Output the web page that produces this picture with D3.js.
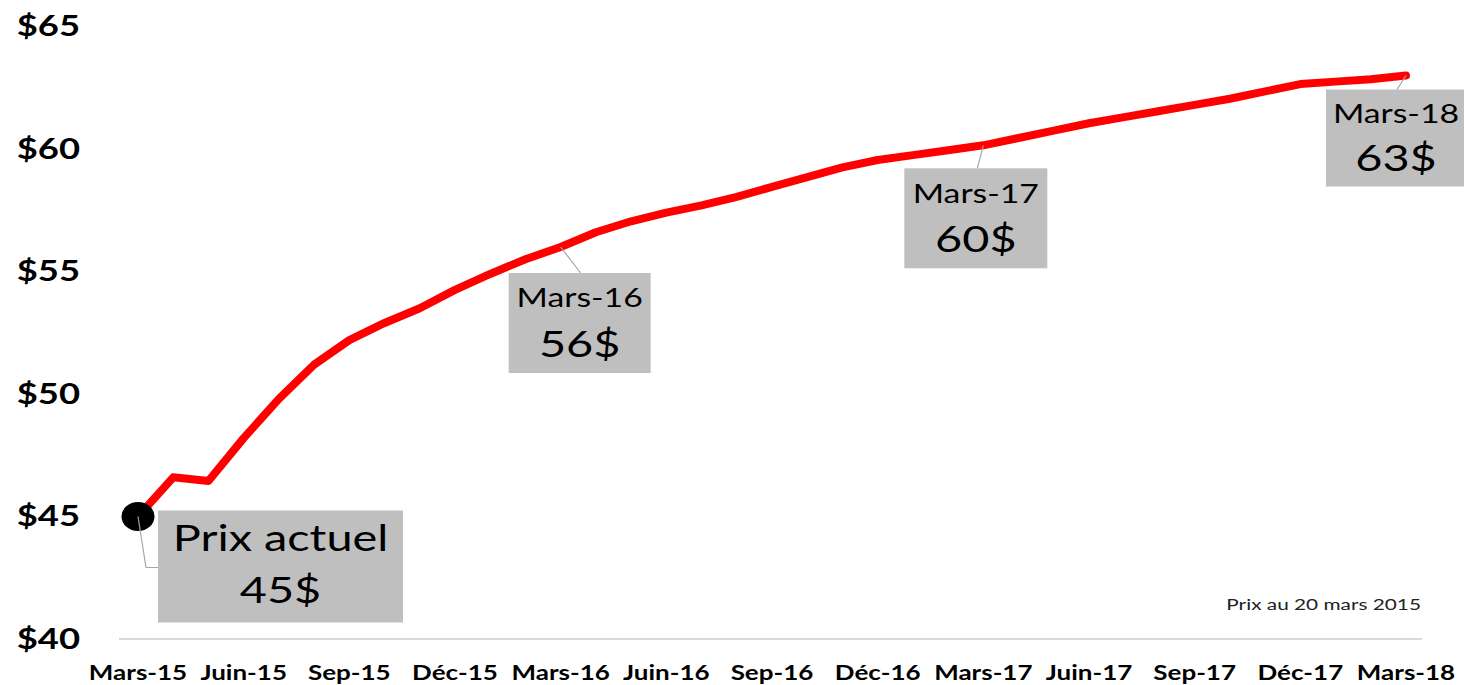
<!DOCTYPE html>
<html>
<head>
<meta charset="utf-8">
<script src="https://cdn.jsdelivr.net/npm/d3@7"></script>
<style>
  body { margin: 0; background: #fff; }
  svg { display: block; font-family: Lato, "Open Sans", sans-serif; }
</style>
</head>
<body>
<svg id="chart" width="1464" height="685"></svg>
<script>
// months from Mars-15 to Mars-18
var months = ["Mars-15","Avr-15","Mai-15","Juin-15","Juil-15","Août-15","Sep-15","Oct-15","Nov-15","Déc-15","Janv-16","Févr-16",
  "Mars-16","Avr-16","Mai-16","Juin-16","Juil-16","Août-16","Sep-16","Oct-16","Nov-16","Déc-16","Janv-17","Févr-17",
  "Mars-17","Avr-17","Mai-17","Juin-17","Juil-17","Août-17","Sep-17","Oct-17","Nov-17","Déc-17","Janv-18","Févr-18","Mars-18"];
var prices = [45.0, 46.6, 46.45, 48.2, 49.8, 51.2, 52.2, 52.9, 53.5, 54.25, 54.9, 55.5,
  56.0, 56.6, 57.05, 57.4, 57.7, 58.05, 58.45, 58.85, 59.25, 59.55, 59.75, 59.95,
  60.15, 60.45, 60.75, 61.05, 61.3, 61.55, 61.8, 62.05, 62.35, 62.65, 62.75, 62.85, 63.0];
var tickLabels = ["Mars-15","Juin-15","Sep-15","Déc-15","Mars-16","Juin-16","Sep-16","Déc-16","Mars-17","Juin-17","Sep-17","Déc-17","Mars-18"];
var yTicks = [40, 45, 50, 55, 60, 65];

// callouts: month, line 1, line 2
var callouts = [
  {m: "Mars-15", l1: "Prix actuel", l2: "45$"},
  {m: "Mars-16", l1: "Mars-16", l2: "56$"},
  {m: "Mars-17", l1: "Mars-17", l2: "60$"},
  {m: "Mars-18", l1: "Mars-18", l2: "63$"}
];
var note = "Prix au 20 mars 2015";

var svg = d3.select("#chart");

var x = d3.scalePoint().domain(months).range([138, 1406]);
var y = d3.scaleLinear().domain([40, 65]).range([639, 26.5]);

// original text is wide, stretch it a bit
var stretch = 1.3;
function label(parent, px, py, str, size, weight, anchor) {
  return parent.append("text")
    .attr("transform", "translate(" + px + "," + py + ") scale(" + stretch + ",1)")
    .attr("text-anchor", anchor).attr("dominant-baseline", "central")
    .style("font-size", size + "px").style("font-weight", weight).style("fill", "#000")
    .text(str);
}

// base axis line
svg.append("line")
  .attr("x1", 119).attr("x2", 1422)
  .attr("y1", y(40)).attr("y2", y(40))
  .attr("stroke", "#d9d9d9").attr("stroke-width", 2);

// y labels
yTicks.forEach(function(d){
  label(svg, 80, y(d) - 1, "$" + d, 28, "bold", "end");
});

// x labels
tickLabels.forEach(function(d){
  label(svg, x(d), 672, d, 20, "bold", "middle");
});

// price line
var line = d3.line()
  .x(function(d, i){ return x(months[i]); })
  .y(function(d){ return y(d); });

svg.append("path")
  .datum(prices)
  .attr("d", line)
  .attr("fill", "none").attr("stroke", "#ff0000")
  .attr("stroke-width", 8).attr("stroke-linejoin", "round").attr("stroke-linecap", "round");

// current price marker
svg.append("ellipse")
  .attr("cx", x("Mars-15")).attr("cy", y(prices[0]))
  .attr("rx", 16.5).attr("ry", 14.5).attr("fill", "#000");

// callout boxes (offsets relative to point)
var boxes = [
  {w: 245, h: 112, dx: 20, dy: -6, f1: 36, f2: 36, lead: [[0,0],[8,51],[20,51]]},
  {w: 142, h: 100, dx: -52, dy: 26, f1: 26, f2: 36, lead: [[0,0],[20,26]]},
  {w: 143, h: 100, dx: -79, dy: 23, f1: 26, f2: 36, lead: [[0,0],[-6,23]]},
  {w: 140, h: 97, dx: -80, dy: 14, f1: 26, f2: 36, lead: [[0,0],[-9,14]]}
];

callouts.forEach(function(c, i){
  var b = boxes[i];
  var px = x(c.m), py = y(prices[months.indexOf(c.m)]);
  var g = svg.append("g");
  g.append("polyline")
    .attr("points", b.lead.map(function(p){ return (px + p[0]) + "," + (py + p[1]); }).join(" "))
    .attr("fill", "none").attr("stroke", "#a6a6a6").attr("stroke-width", 1.2);
  var bx = px + b.dx, by = py + b.dy;
  g.append("rect")
    .attr("x", bx).attr("y", by).attr("width", b.w).attr("height", b.h)
    .attr("fill", "#bfbfbf");
  label(g, bx + b.w / 2, by + b.h * 0.24, c.l1, b.f1, "normal", "middle");
  label(g, bx + b.w / 2, by + b.h * 0.70, c.l2, b.f2, "normal", "middle");
});

label(svg, 1421, 604, note, 16, "normal", "end").style("fill", "#222");
</script>
</body>
</html>
